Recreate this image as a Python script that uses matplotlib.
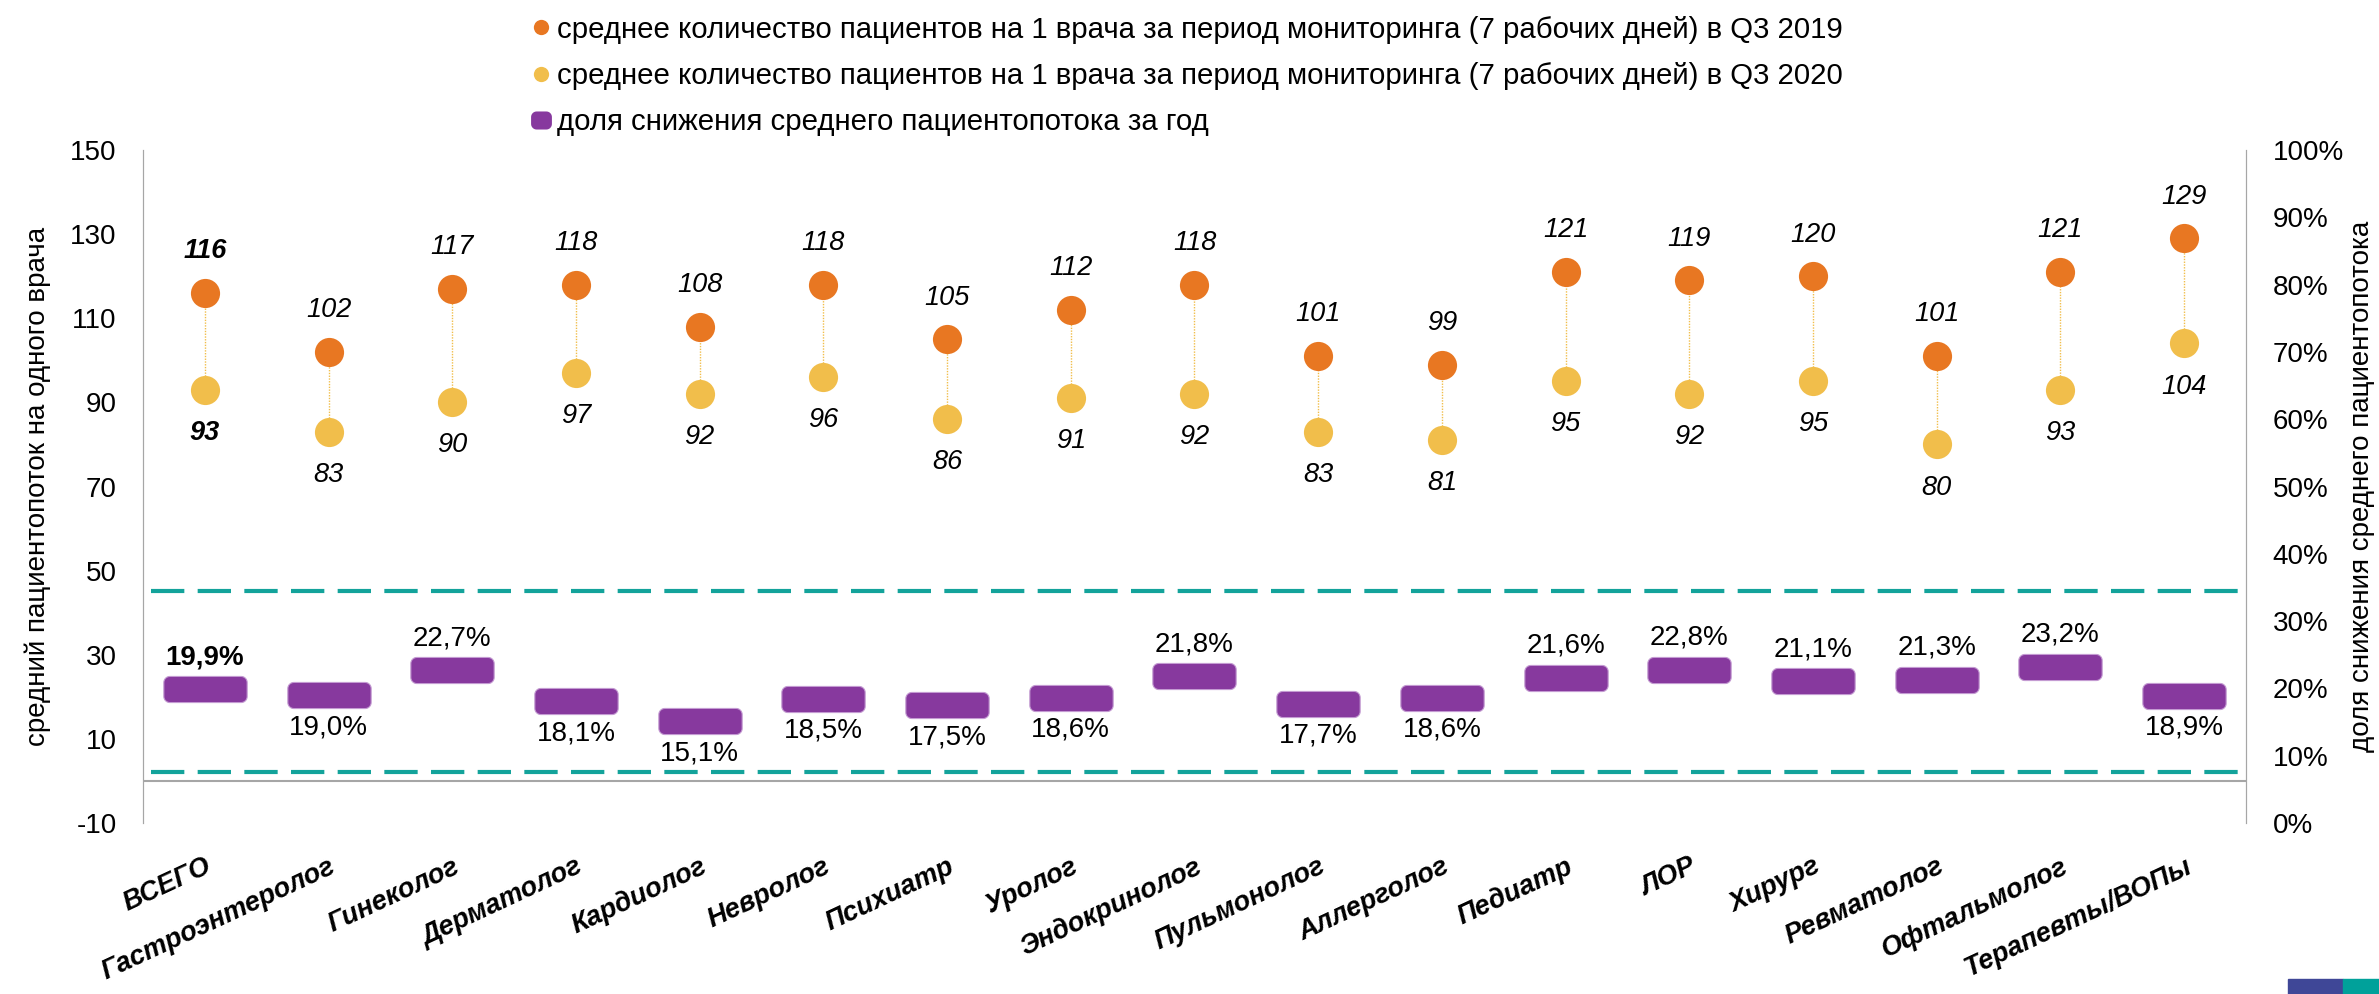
import numpy as np
import matplotlib
matplotlib.use("Agg")
import matplotlib.pyplot as plt
from matplotlib.path import Path
from matplotlib.lines import Line2D
from matplotlib.ticker import MultipleLocator, PercentFormatter

categories = ["ВСЕГО", "Гастроэнтеролог", "Гинеколог", "Дерматолог", "Кардиолог",
              "Невролог", "Психиатр", "Уролог", "Эндокринолог", "Пульмонолог",
              "Аллерголог", "Педиатр", "ЛОР", "Хирург", "Ревматолог",
              "Офтальмолог", "Терапевты/ВОПы"]
q3_2019 = [116, 102, 117, 118, 108, 118, 105, 112, 118, 101, 99, 121, 119, 120, 101, 121, 129]
q3_2020 = [93, 83, 90, 97, 92, 96, 86, 91, 92, 83, 81, 95, 92, 95, 80, 93, 104]
decline_pct = [19.9, 19.0, 22.7, 18.1, 15.1, 18.5, 17.5, 18.6, 21.8, 17.7, 18.6,
               21.6, 22.8, 21.1, 21.3, 23.2, 18.9]
corridor = [45.2, 2.2]  # dashed band, left axis units

label_2019 = "среднее количество пациентов на 1 врача за период мониторинга (7 рабочих дней) в Q3 2019"
label_2020 = "среднее количество пациентов на 1 врача за период мониторинга (7 рабочих дней) в Q3 2020"
label_decline = "доля снижения среднего пациентопотока за год"

ORANGE = "#E87722"
YELLOW = "#F1BE4B"
PURPLE = "#87399E"
TEAL = "#13A39B"
GRAY = "#A6A6A6"

plt.rcParams["font.family"] = ["Liberation Sans", "DejaVu Sans"]
plt.rcParams["axes.unicode_minus"] = False


def rounded_rect(w, h, r, n=10):
    pts = []
    corners = [(w / 2 - r, h / 2 - r, 0), (-w / 2 + r, h / 2 - r, 90),
               (-w / 2 + r, -h / 2 + r, 180), (w / 2 - r, -h / 2 + r, 270)]
    for cx, cy, a0 in corners:
        t = np.radians(np.linspace(a0, a0 + 90, n))
        pts += list(zip(cx + r * np.cos(t), cy + r * np.sin(t)))
    pts.append(pts[0])
    return Path(pts, closed=True)


bar_marker = rounded_rect(83, 26, 6)
legend_marker = rounded_rect(15, 13, 4)

x = np.arange(len(categories))

fig, ax = plt.subplots(figsize=(23.79, 9.94), dpi=100)
fig.subplots_adjust(left=0.0601, right=0.9441, top=0.8491, bottom=0.172)
ax2 = ax.twinx()

# dumbbells
ax.vlines(x, q3_2020, q3_2019, colors=YELLOW, linestyles=(0, (1, 1)), linewidth=1, zorder=2)
ax.plot(x, q3_2019, "o", ms=21, color=ORANGE, mew=0, zorder=3)
ax.plot(x, q3_2020, "o", ms=21, color=YELLOW, mew=0, zorder=3)

for i, (a, b) in enumerate(zip(q3_2019, q3_2020)):
    w = "bold" if i == 0 else "normal"
    ax.annotate(str(a), (x[i], a), xytext=(0, 30), textcoords="offset points",
                ha="center", va="center", fontsize=19.5, style="italic", fontweight=w)
    ax.annotate(str(b), (x[i], b), xytext=(0, -31), textcoords="offset points",
                ha="center", va="center", fontsize=19.5, style="italic", fontweight=w)

ax.axhline(0, color=GRAY, lw=1.5, zorder=1)
for y in corridor:
    ax.axhline(y, xmin=0.004, xmax=0.996, color=TEAL, lw=3,
               linestyle=(0, (8, 3.2)), zorder=1)

# decline share, right axis
dec = np.array(decline_pct) / 100
ax2.plot(x, dec, linestyle="none", marker=bar_marker, ms=60, color=PURPLE,
         mec="#C49BD2", mew=0.8, zorder=3)
for i, v in enumerate(decline_pct):
    off = 23 if v >= decline_pct[0] else -23
    ax2.annotate(f"{v:.1f}%".replace(".", ","), (x[i], v / 100), xytext=(0, off),
                 textcoords="offset points", ha="center", va="center", fontsize=20,
                 fontweight="bold" if i == 0 else "normal")

# axes
ax.set_xlim(-0.5, len(categories) - 0.5)
ax.set_ylim(-10, 150)
ax.set_yticks(np.arange(-10, 151, 20))
ax2.set_ylim(0, 1)
ax2.yaxis.set_major_locator(MultipleLocator(0.1))
ax2.yaxis.set_major_formatter(PercentFormatter(1, decimals=0))

ax.set_xticks(x)
ax.set_xticklabels(categories, rotation=25, ha="right", rotation_mode="anchor",
                   fontsize=19.5, fontweight="bold", style="italic")
ax.tick_params(axis="x", length=0, pad=22)
ax.tick_params(axis="y", length=0, pad=19, labelsize=20)
ax2.tick_params(axis="y", length=0, pad=19, labelsize=20)

for a in (ax, ax2):
    a.spines["top"].set_visible(False)
    a.spines["bottom"].set_visible(False)
    a.spines["left"].set_color(GRAY)
    a.spines["right"].set_color(GRAY)

ax.set_ylabel("средний пациентопоток на одного врача", fontsize=20, labelpad=14)
ax2.set_ylabel("доля снижения среднего пациентопотока", fontsize=20, labelpad=4)

handles = [
    Line2D([], [], linestyle="none", marker="o", ms=11, color=ORANGE, mew=0),
    Line2D([], [], linestyle="none", marker="o", ms=11, color=YELLOW, mew=0),
    Line2D([], [], linestyle="none", marker=legend_marker, ms=15, color=PURPLE, mew=0),
]
fig.legend(handles, [label_2019, label_2020, label_decline], loc="upper left",
           bbox_to_anchor=(0.218, 0.999), frameon=False, fontsize=21.2,
           handlelength=0.5, handletextpad=0.3, labelspacing=0.62, borderpad=0)

# logo fragment in the corner
fig.patches.append(plt.Rectangle((0.9617, 0), 0.0231, 0.015, transform=fig.transFigure,
                                 color="#3F4797", figure=fig))
fig.patches.append(plt.Rectangle((0.9848, 0), 0.0152, 0.015, transform=fig.transFigure,
                                 color="#00A19A", figure=fig))

fig.savefig("out.png", dpi=100)
